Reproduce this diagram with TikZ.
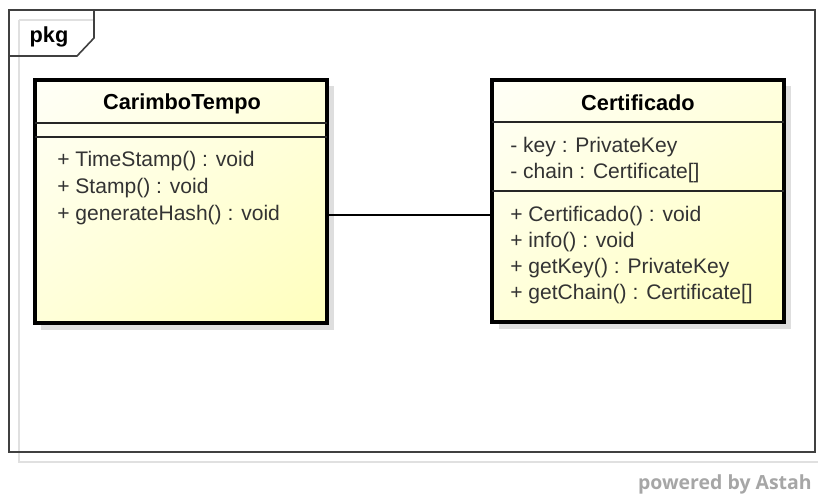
\documentclass[tikz,border=0pt]{standalone}
\usepackage{fontspec}
\usetikzlibrary{shadings}
\setmainfont{Liberation Sans}
\newfontfamily\logofont{Open Sans}
\begin{document}
\begin{tikzpicture}[x=0.75pt,y=-0.75pt,
  classbox/.style={line width=3pt, draw=black},
  shadowbox/.style={fill=black!13, draw=none},
  sepline/.style={line width=1.3pt, draw=black!85},
  member/.style={anchor=west, inner sep=0pt, font=\fontsize{15.8}{18}\selectfont, text=black!80},
  ctitle/.style={inner sep=0pt, font=\fontsize{16.3}{18}\selectfont\bfseries, text=black},
  boxfill/.style={upper left=yellow!3, upper right=yellow!13, lower left=yellow!15, lower right=yellow!26},
  conn/.style={line width=1.2pt, draw=black}]
\useasboundingbox (0,0) rectangle (818,495);
% frame shadow
\draw[black!12, line width=1pt] (19,20) -- (19,462) -- (818,462);
\draw[black!12, line width=1pt] (19,20) -- (95,20);
% package frame
\draw[line width=1.2pt, black!75] (9,10) rectangle (815,452);
\draw[line width=1.2pt, black!75] (9,56) -- (77,56) -- (94,38) -- (94,10);
\node[ctitle, anchor=center] (pkg) at (49,37) {pkg};
% CarimboTempo
\fill[shadowbox] (41,86) rectangle (334,330);
\shade[boxfill] (35,80) rectangle (327,323);
\draw[classbox] (35,80) rectangle (327,323);
\draw[sepline] (35,123) -- (327,123);
\draw[sepline] (35,137) -- (327,137);
\node[ctitle] (cttitle) at (182,104) {CarimboTempo};
\node[member] (m1) at (57,161) {+ TimeStamp() : void};
\node[member] (m2) at (57,188) {+ Stamp() : void};
\node[member] (m3) at (57,215) {+ generateHash() : void};
\coordinate (ctR) at (327,215);
% Certificado
\fill[shadowbox] (499,86) rectangle (791,329);
\shade[boxfill] (492,80) rectangle (784,322);
\draw[classbox] (492,80) rectangle (784,322);
\draw[sepline] (492,122) -- (784,122);
\draw[sepline] (492,191) -- (784,191);
\node[ctitle] (cetitle) at (638,103) {Certificado};
\node[member] (a1) at (510,147) {- key : PrivateKey};
\node[member] (a2) at (510,173) {- chain : Certificate[]};
\node[member] (b1) at (510,216) {+ Certificado() : void};
\node[member] (b2) at (510,242) {+ info() : void};
\node[member] (b3) at (510,268) {+ getKey() : PrivateKey};
\node[member] (b4) at (510,294) {+ getChain() : Certificate[]};
\coordinate (ceL) at (492,215);
% association
\draw[conn] (ctR) -- (ceL);
% logo
\node[anchor=east, inner sep=0pt, font=\logofont\fontsize{14.6}{16}\selectfont\bfseries, text=black!35] (logo) at (812,484) {powered by Astah};
\end{tikzpicture}
\end{document}
